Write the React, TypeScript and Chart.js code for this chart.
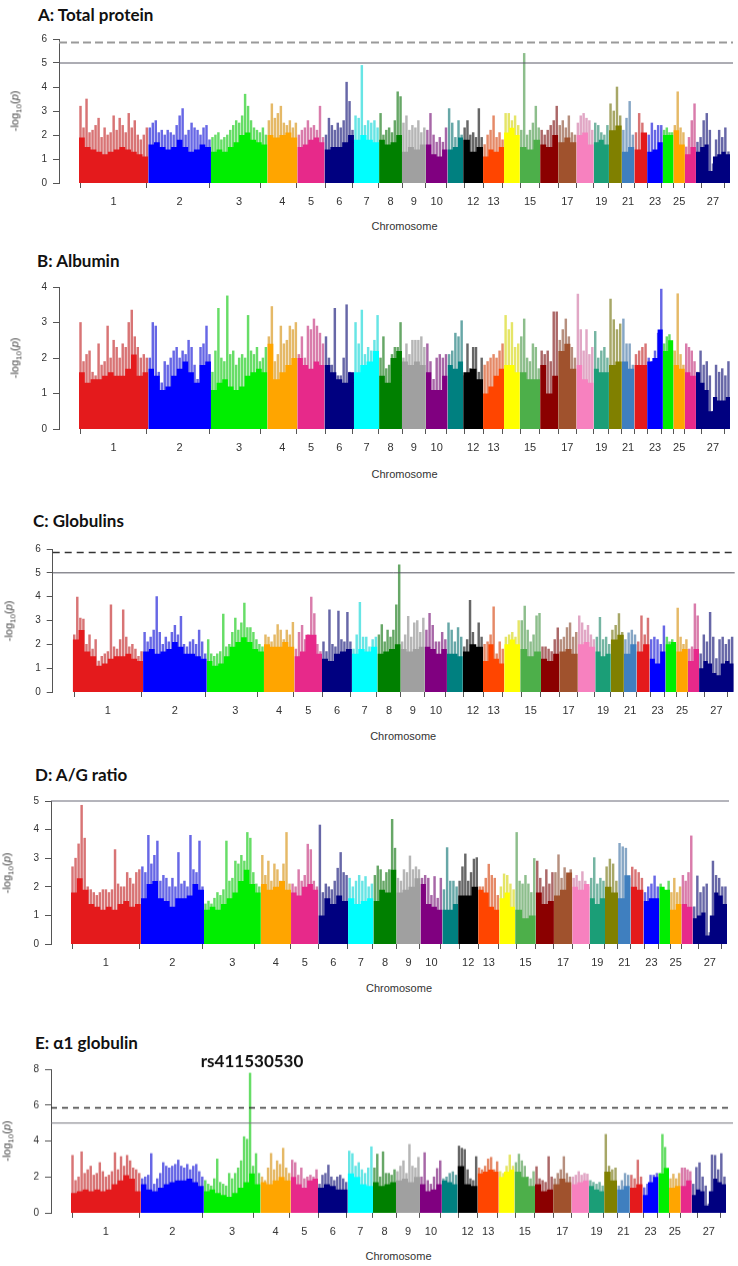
import React, { useEffect, useRef } from 'react';
import { Chart, registerables } from 'chart.js';

Chart.register(...registerables);
Chart.defaults.font.family = '"Liberation Sans", Arial, sans-serif';

// ---------------- data ----------------
const chromosomes = ['1','2','3','4','5','6','7','8','9','10','11','12','13','14','15','16','17','18','19','20','21','22','23','24','25','26','27'];
const chromLengthMb = [275.4, 248.9, 224.0, 119.2, 107.9, 117.0, 100.0, 90.7, 94.7, 86.4, 62.2, 79.1, 83.1, 62.7, 80.9, 71.7, 72.3, 68.6, 60.5, 51.2, 49.9, 50.8, 62.3, 42.0, 45.4, 44.0, 135.4];
const chromColors = ['#E41A1C','#0000FF','#00EE00','#FFA500','#E7298A','#000080','#00FFFF','#008000','#A0A0A0','#800080','#008080','#000000','#FF4500','#FFFF00','#4DAF4A','#8B0000','#A0522D','#F781BF','#1B9E77','#808000','#3F7FBF','#E41A1C','#0000FF','#00EE00','#FFA500','#E7298A','#000080'];
const tickLabels = ['1','2','3','4','5','6','7','8','9','10','','12','13','','15','','17','','19','','21','','23','','25','','27'];

const genomeWideThreshold = 5.85;
const suggestiveThreshold = 5.0;

// A: Total protein
const totalProteinBody = [
  [1.9,1.5,1.4,1.3,1.2,1.3,1.4,1.5,1.4,1.3,1.2,1.1],[1.6,1.7,1.5,1.4,1.5,1.8,1.5,1.3,1.4,1.6,1.5],[1.3,1.4,1.3,1.5,1.7,2.0,2.1,1.8,1.7,1.6],
  [2.0,1.9,2.0,2.1,1.9],[1.5,1.6,1.8,1.9,1.7],[1.4,1.5,1.5,1.7,2.0],[1.8,2.0,1.8,1.7],[1.8,1.6,1.7,2.0],[1.3,1.5,1.4,1.6],[1.6,1.2,1.1,1.4],
  [1.4,1.5,1.9],[1.8,1.3,1.5],[1.1,1.4,1.3,1.5],[2.1,2.3,2.0],[1.5,1.4,1.8],[1.6,1.5,2.0],[1.7,1.9,1.7],[2.0,2.1,1.6],[1.7,1.8,1.6],
  [2.2,2.4],[1.3,1.5],[1.4,2.1],[1.3,1.4,1.7],[2.0,2.0],[2.2,1.6],[1.2,1.5],[1.3,1.5,1.6,0.5,1.1,1.2,1.3,1.2]
];
const totalProteinPeaks = [
  [3.2,2.3,3.5,2.1,2.2,2.4,2.7,1.9,2.3,2.0,2.1,2.8,2.2,2.7,2.4,2.1,2.9,2.3,2.6,2.0,1.8,2.0,2.3],
  [2.3,2.5,2.6,2.1,2.2,2.0,2.2,2.1,2.0,2.4,2.8,3.1,2.0,2.2,2.5,2.3,2.2,2.0,2.3,2.4,1.8],
  [1.9,2.0,2.1,1.8,1.9,2.0,2.2,2.4,2.6,2.5,2.8,3.7,3.2,2.6,2.3,2.2,2.1,2.3,2.0],
  [2.6,3.3,2.7,2.9,3.2,2.5,2.4,2.6,2.3,2.5],[2.0,2.2,2.3,2.6,2.3,2.4,2.2,3.2,1.9],[2.0,2.7,2.4,2.2,2.5,2.3,2.6,4.2,3.4,2.2],
  [2.8,2.7,4.9,2.4,2.6,2.5,2.6,2.3],[2.9,2.0,2.2,2.3,2.1,2.6,3.8,3.6],[2.5,2.8,2.2,2.4,2.3,2.6,2.1,2.3],[2.2,2.9,2.0,1.7,1.9,1.7,2.3],
  [3.1,2.5,1.9,2.6,2.0],[2.3,2.6,2.0,2.1,1.9,3.1,1.9],[1.6,2.0,2.2,2.8,1.9,2.1,1.8],[2.9,2.9,2.6,2.8,2.4],[2.2,5.4,2.0,2.2,2.5,3.2,2.3],
  [2.2,2.0,2.2,2.4,2.6,3.2],[2.4,2.6,2.3,2.8,2.1,2.0],[2.5,2.8,2.9,2.7,2.6,2.2],[2.5,2.4,2.1,2.0,2.4],[3.3,3.0,4.0,2.8],[2.2,2.7,3.4,2.0],
  [2.1,2.9,2.5,1.8],[2.0,2.5,2.2,2.4,2.4],[2.2,2.3,2.1,2.1],[2.4,3.8,2.3,2.1],[1.5,1.9,2.6,3.3],[1.7,1.9,2.6,2.9,2.2,0.8,1.8,2.2,1.9,2.3,1.3]
];

// B: Albumin
const albuminBody = [
  [1.6,1.3,1.4,1.4,1.5,1.6,1.5,1.5,1.7,2.1,1.5,1.6],[1.7,1.5,1.1,1.2,1.5,1.7,1.9,1.6,1.3,1.8,1.9],[1.1,1.3,1.4,1.2,1.1,1.2,1.5,1.6,1.7,1.6],
  [2.4,1.4,1.6,1.8,2.0],[2.0,1.8,1.7,1.9,1.8],[1.8,1.6,1.4,1.3,1.6],[1.6,1.8,1.9,2.2],[1.5,1.3,2.0,2.2],[1.9,1.8,1.9,1.8],[1.6,1.1,1.1,1.5],
  [1.8,1.7,1.9],[1.6,1.7,1.4],[1.0,1.2,1.5,1.7],[1.8,1.8,1.6],[1.6,1.4,1.4],[1.8,1.0,1.5],[2.2,2.4,1.7],[1.8,1.4,1.3],[1.7,1.6,1.6],
  [1.8,1.9],[1.9,1.7],[1.8,1.8],[1.9,2.0,2.8],[2.2,2.5],[1.8,1.7],[1.6,1.5],[1.6,1.3,1.1,0.5,0.9,0.8,0.8,0.9]
];
const albuminPeaks = [
  [3.0,1.9,2.1,2.2,1.6,1.5,2.4,1.8,1.9,2.9,2.0,2.5,2.3,2.0,2.4,2.3,3.0,3.35,2.6,2.3,2.0,2.1,2.0],
  [2.0,3.0,2.9,1.6,1.3,1.9,1.8,2.0,2.2,2.3,2.0,2.2,2.1,2.5,2.3,1.8,1.4,2.3,2.4,2.9,2.1],
  [1.6,2.2,3.4,2.0,1.9,3.75,2.1,2.2,1.8,2.0,2.1,2.0,3.2,2.2,2.1,2.3,1.9,2.0,2.3],
  [2.6,3.45,1.9,2.1,2.9,2.4,2.5,2.9,2.8,3.0],[2.1,2.6,2.0,2.9,2.8,3.1,2.9,2.7,2.4],[2.6,2.0,1.8,3.4,1.5,1.5,2.0,3.5,1.6,1.5],
  [3.0,2.4,3.35,2.1,2.3,2.2,2.5,3.2],[2.0,2.6,1.7,1.8,2.1,2.3,2.3,3.0],[2.0,2.4,2.1,2.5,2.5,2.5,2.6,2.3],[2.4,1.9,1.4,2.0,2.1,2.0,2.1],
  [2.1,2.2,2.7,2.6,3.05],[1.5,2.4,1.7,2.3,2.3,1.6,2.0],[1.8,1.9,2.0,2.1,2.0,2.2,2.4],[3.2,2.8,3.0,2.3,2.4],[2.6,3.1,2.0,1.9,2.4,2.3,1.7],
  [2.2,2.1,2.2,1.9,3.3,3.3],[2.5,2.8,3.1,2.6,2.3,2.0],[3.8,2.8,2.2,2.8,2.1,2.3],[2.75,2.0,2.2,2.3,2.0],[3.66,3.08,2.8,2.96],[3.1,2.4,2.4,1.8],
  [2.1,2.2,2.3,2.4],[2.0,1.9,2.2,2.7,3.94],[2.4,2.6,2.66,2.2],[2.2,3.81,2.1,1.8],[2.4,2.3,2.2,1.9],[1.6,2.2,1.8,1.9,1.5,0.5,1.8,1.6,1.7,1.5,1.9]
];

// C: Globulins
const globulinsBody = [
  [2.2,2.6,1.7,1.5,1.1,1.2,1.4,1.5,1.5,1.6,1.4,1.3],[1.7,1.8,1.6,1.7,1.8,2.1,1.9,1.6,1.6,1.5,1.4],[1.3,1.1,1.2,1.5,1.9,2.1,2.3,2.1,1.8,1.7],
  [2.0,1.9,1.9,2.1,1.9],[1.5,1.7,2.4,2.4,1.6],[1.4,1.3,1.6,1.7,1.8],[1.6,1.8,1.7,1.9],[1.6,1.7,1.8,2.0],[1.8,1.7,1.8,1.9],[1.9,1.8,1.6,1.8],
  [1.6,1.6,1.5],[1.7,2.0,1.9],[1.3,2.0,1.4,1.2],[2.0,2.2,2.0],[1.8,1.5,1.7],[1.4,1.3,1.6],[1.7,1.8,1.6],[2.0,2.1,1.9],[1.7,1.5,1.6],
  [2.2,2.4],[1.6,2.0],[1.7,2.0],[1.4,1.2,1.7],[2.0,2.1],[1.7,1.8],[1.3,1.8],[1.0,1.3,1.2,0.8,0.7,1.2,1.3,1.2]
];
const globulinsPeaks = [
  [2.4,3.98,3.1,3.06,2.0,2.4,1.8,2.2,1.3,1.5,1.6,1.7,3.66,1.9,1.8,2.2,3.45,2.3,1.9,2.0,1.8,1.5,1.7],
  [2.5,2.1,2.3,2.6,4.0,2.5,2.0,2.3,2.1,2.5,2.8,2.4,3.17,2.0,1.9,2.1,2.2,2.0,2.6,2.1,1.6],
  [2.2,1.6,1.5,1.6,1.7,3.27,1.9,2.0,2.5,3.1,2.6,2.9,3.73,2.7,2.7,2.5,2.2,2.0,1.9],
  [2.4,2.3,2.1,2.4,2.83,2.6,2.2,2.6,2.4,2.92],[1.8,2.5,2.8,2.2,2.4,3.98,3.29,2.0,1.7],[2.1,1.7,3.45,2.0,1.9,3.4,2.2,2.1,3.34,2.1],
  [1.8,2.4,3.76,2.3,2.3,1.9,2.2,2.3],[2.4,2.83,2.1,2.6,2.3,2.6,3.66,5.34],[2.1,2.4,3.17,2.3,2.9,3.0,2.5,3.1],[2.6,3.3,2.8,2.1,2.1,2.5,2.2],
  [2.9,2.6,2.1,2.7,2.3],[1.9,2.2,3.85,2.5,1.8,2.9,2.3],[2.0,2.1,2.4,3.57,1.6,2.1,1.8],[2.3,2.4,2.5,2.3,3.0],[3.0,3.6,2.6,2.1,2.4,3.2,3.3],
  [1.9,1.9,1.8,1.7,2.2,2.69],[2.2,2.3,2.7,2.9,2.3,2.5],[3.2,2.9,2.6,2.8,2.4,2.2],[2.3,3.13,2.2,2.3,2.0],[2.6,2.8,3.29,2.5],[2.2,2.48,2.6,2.4],
  [2.1,3.2,2.4,3.1],[2.2,2.3,2.2,2.0,2.78],[2.3,2.1,2.2,2.0],[3.52,2.3,2.0,2.2],[1.8,1.9,3.7,3.2],[1.6,2.4,2.1,3.34,2.3,1.4,2.2,2.3,2.0,2.2,2.3]
];

// D: A/G ratio
const agRatioBody = [
  [1.8,2.3,1.9,1.4,1.3,1.2,1.3,1.2,1.4,1.5,1.3,1.4],[1.6,2.1,2.2,1.6,1.5,1.3,1.6,1.6,1.7,2.1,1.9],[1.2,1.3,1.2,1.4,1.6,1.8,2.2,2.6,2.1,1.8],
  [2.1,1.9,2.0,2.2,1.9],[1.8,1.7,2.0,2.1,1.9],[1.0,1.6,1.4,1.7,1.5],[1.6,1.4,1.5,1.6],[1.5,1.9,1.8,2.6],[1.8,1.9,2.0,2.3],[2.1,1.4,1.3,1.2],
  [1.2,1.2,1.4],[1.7,1.7,2.0],[1.9,1.8,1.3,1.2],[1.6,1.8,1.3],[1.2,0.9,1.0],[1.8,1.4,1.5],[1.7,1.9,2.5],[2.0,1.9,2.1],[1.6,1.4,1.6],
  [2.0,1.8],[1.6,2.4],[2.0,1.9],[1.5,1.6,1.6],[2.0,1.9],[1.2,1.4],[1.4,1.3],[0.9,1.0,1.1,0.3,1.0,1.8,1.7,1.4]
];
const agRatioPeaks = [
  [2.7,3.0,3.5,4.85,3.7,2.0,1.9,1.8,1.7,1.8,1.9,1.9,1.8,1.9,3.3,2.1,2.0,2.0,2.5,2.3,2.1,2.5,2.6],
  [2.7,2.5,3.8,2.8,3.1,3.6,2.2,2.4,2.3,2.0,2.3,2.0,3.2,2.1,2.2,2.0,3.8,2.6,2.5,3.6,2.0],
  [1.4,1.5,1.4,1.6,1.8,1.7,1.9,3.6,2.2,2.3,2.9,2.8,3.1,2.9,3.9,3.7,2.5,2.1,2.0],
  [3.1,2.4,2.9,2.2,2.8,2.6,2.2,2.8,3.9,2.1],[2.1,2.0,2.6,2.2,2.4,3.49,3.3,2.2,2.0],[4.16,1.8,2.1,2.0,1.9,2.2,2.65,3.2,2.5,2.4],
  [2.3,2.0,2.2,2.4,2.2,2.36,2.0,2.1],[2.4,2.73,2.6,2.2,2.5,2.6,4.36,3.35],[2.3,2.2,2.6,2.5,3.08,2.6,2.7,2.6],[2.3,2.4,2.3,1.7,2.36,1.6,2.3],
  [1.9,3.37,2.2,2.2,2.0],[2.2,2.7,3.15,2.2,2.5,2.97,3.02],[2.0,2.0,2.3,2.79,2.4,2.3,1.7],[2.0,2.45,2.4,2.1,1.9],[3.9,2.2,2.1,2.4,2.1,1.8,2.99],
  [2.9,2.3,2.0,2.6,2.1,2.5],[2.5,3.12,2.3,2.67,2.4,2.6],[2.3,2.4,2.2,2.53,2.2,2.0],[2.3,3.02,2.1,2.3,2.2],[2.7,2.97,2.8,2.2],[3.52,3.4,3.35,2.3],
  [2.69,2.6,2.5,2.3],[1.8,2.0,2.1,2.38,2.0],[2.1,1.9,1.8,2.2],[1.8,2.3,1.8,2.0],[2.4,2.2,2.5,3.78],[1.3,2.38,1.8,2.0,2.1,0.4,2.9,2.4,2.3,2.0,2.0]
];

// E: alpha1 globulin
const alpha1Body = [
  [1.1,1.2,1.3,1.2,1.3,1.2,1.3,1.6,1.8,2.1,1.9,1.2],[1.6,1.3,1.2,1.4,1.6,1.7,1.8,1.8,1.9,1.7,1.5],[1.2,1.3,1.1,1.0,0.9,1.1,1.4,1.7,2.2,1.6],
  [1.7,1.6,1.8,2.0,1.8],[2.0,1.6,1.4,1.8,1.9],[1.4,1.6,1.5,1.3,1.3],[2.2,2.0,1.6,1.5],[1.7,1.5,1.6,1.7],[1.8,1.9,1.7,2.0],[1.6,1.2,1.3,1.6],
  [1.8,1.7,1.6],[2.6,1.6,1.5],[2.2,2.3,2.4,2.3],[2.0,2.3,2.4],[2.3,2.0,1.5],[1.6,1.2,1.3],[1.6,1.9,1.7],[1.6,1.7,1.8],[1.5,1.3,1.2],
  [2.3,1.8],[1.3,1.5],[1.4,1.6],[1.0,1.7,2.0],[2.2,2.5],[1.4,1.5],[1.5,1.8],[1.0,1.3,1.2,0.4,1.2,1.9,1.7,1.6]
];
const alpha1Peaks = [
  [3.2,1.8,2.0,3.4,2.2,2.4,2.6,2.1,2.2,2.8,2.3,2.0,2.1,2.3,3.35,2.4,3.13,2.6,3.2,2.9,2.5,2.4,2.2],
  [1.9,2.0,2.1,3.3,1.6,1.9,2.2,2.8,2.6,2.5,2.6,2.7,2.94,2.6,2.5,2.7,2.4,2.6,2.7,2.3,2.0],
  [1.8,1.6,1.5,1.9,3.0,1.7,1.6,1.5,2.2,1.9,2.2,2.5,2.9,4.24,4.1,7.78,2.6,3.3,2.2],
  [2.0,1.8,2.5,3.31,2.4,2.9,2.7,3.6,2.5,2.2],[2.94,2.8,2.1,2.5,1.9,2.0,2.1,2.0,2.4],[1.6,2.1,2.2,2.66,2.0,1.8,2.0,2.1,1.9,1.7],
  [3.44,3.3,2.6,2.8,2.4,2.2,2.5,3.68],[2.5,3.27,2.0,3.4,2.2,2.2,2.1,2.4],[2.3,2.6,2.9,2.2,3.81,2.6,2.5,3.09],[2.0,3.35,1.8,1.6,2.0,2.47,2.9],
  [1.9,2.0,2.2,2.29,2.1],[3.72,3.6,3.53,2.4,1.9,1.8,3.13],[2.5,2.4,2.6,3.0,3.09,2.4,2.85],[2.3,2.2,2.6,3.22,2.6],[2.8,3.27,2.9,2.6,2.0,1.9,2.3],
  [2.57,1.9,1.8,1.7,3.13,2.0],[1.9,2.2,2.4,3.13,2.2,2.0],[2.0,2.1,2.3,2.1,2.2,2.16],[1.8,1.7,1.6,1.7,1.5],[4.37,2.6,2.4,2.5],[1.5,1.8,2.2,2.1],
  [2.1,1.9,2.94,2.0],[1.4,1.6,2.1,2.1,2.2],[2.2,4.37,3.65,2.4],[1.9,2.16,1.9,2.2],[2.5,2.5,2.4,2.3],[1.6,2.53,2.79,2.0,1.5,0.5,3.22,3.2,2.4,3.3,2.0]
];

// ---------------- panels (layout + styling) ----------------
const PANELS = [
  { title: 'A: Total protein', body: totalProteinBody, peaks: totalProteinPeaks, yMax: 6, yStep: 1, annotation: null,
    lines: [ { v: genomeWideThreshold, color: '#9a9a9a', width: 2, dash: [8, 4] }, { v: suggestiveThreshold, color: '#5a5a68', width: 1, dash: [] } ],
    L: { titleX: 38, titleY: 15, axisX: 59, dataStart: 79, dataEnd: 730, right: 733, yTop: 39, y0: 183, xlabY: 226 } },
  { title: 'B: Albumin', body: albuminBody, peaks: albuminPeaks, yMax: 4, yStep: 1, annotation: null, lines: [],
    L: { titleX: 37, titleY: 260.5, axisX: 59, dataStart: 79, dataEnd: 730, right: 733, yTop: 287.3, y0: 429.3, xlabY: 474 } },
  { title: 'C: Globulins', body: globulinsBody, peaks: globulinsPeaks, yMax: 6, yStep: 1, annotation: null,
    lines: [ { v: genomeWideThreshold, color: '#333333', width: 1.5, dash: [7, 5] }, { v: suggestiveThreshold, color: '#555560', width: 1, dash: [] } ],
    L: { titleX: 33, titleY: 520.5, axisX: 52.7, dataStart: 72.7, dataEnd: 733.7, right: 734.7, yTop: 549.3, y0: 692.3, xlabY: 736 } },
  { title: 'D: A/G ratio', body: agRatioBody, peaks: agRatioPeaks, yMax: 5, yStep: 1, annotation: null,
    lines: [ { v: suggestiveThreshold, color: '#6a6a78', width: 1, dash: [] } ],
    L: { titleX: 35, titleY: 774.5, axisX: 51, dataStart: 71, dataEnd: 727, right: 729, yTop: 801, y0: 944.3, xlabY: 988 } },
  { title: 'E: α1 globulin', body: alpha1Body, peaks: alpha1Peaks, yMax: 8, yStep: 2, annotation: 'rs411530530',
    lines: [ { v: genomeWideThreshold, color: '#333333', width: 1.5, dash: [6, 5] }, { v: suggestiveThreshold, color: '#77777f', width: 1, dash: [] } ],
    L: { titleX: 35, titleY: 1043, axisX: 51, dataStart: 71, dataEnd: 726, right: 733, yTop: 1069.3, y0: 1212.7, xlabY: 1256.7 } },
];

function spikeColor(hex) {
  const n = parseInt(hex.slice(1), 16);
  const rgb = [(n >> 16) & 255, (n >> 8) & 255, n & 255];
  const m = (c) => Math.round(c * 0.7 + 130 * 0.3);
  return `rgba(${m(rgb[0])},${m(rgb[1])},${m(rgb[2])},0.7)`;
}

const annotationPlugin = {
  id: 'peakAnnotation',
  afterDatasetsDraw(chart, args, opts) {
    if (!opts || !opts.text) return;
    const idx = chart.data.datasets.findIndex((d) => d.type === 'bar');
    if (idx < 0) return;
    const ds = chart.data.datasets[idx];
    let best = 0;
    ds.data.forEach((p, i) => { if (p.y > ds.data[best].y) best = i; });
    const el = chart.getDatasetMeta(idx).data[best];
    const ctx = chart.ctx;
    ctx.save();
    ctx.font = 'bold 17px Lato, "Open Sans", sans-serif';
    ctx.fillStyle = '#111';
    ctx.textAlign = 'center';
    ctx.textBaseline = 'middle';
    ctx.fillText(opts.text, el.x + 2, el.y - 11.5);
    ctx.restore();
  },
};

const TOP_PAD = 26;

function ManhattanPanel({ panel }) {
  const ref = useRef(null);
  const L = panel.L;
  const top = L.yTop - TOP_PAD;
  const height = L.y0 + 34 - top;

  useEffect(() => {
    const total = chromLengthMb.reduce((a, b) => a + b, 0);
    const pxPerMb = (L.dataEnd - L.dataStart) / total;
    const xMin = -(L.dataStart - L.axisX) / pxPerMb;
    const xMax = total + (L.right - L.dataEnd) / pxPerMb;

    const datasets = [];
    const spikeData = [];
    const spikeColors = [];
    const centers = [];
    let start = 0;
    chromLengthMb.forEach((len, c) => {
      const b = panel.body[c];
      const w = len / b.length;
      const pts = b.map((v, k) => ({ x: start + k * w, y: v }));
      pts.push({ x: start + len, y: b[b.length - 1] });
      datasets.push({
        type: 'line', label: 'chr' + chromosomes[c], data: pts, stepped: true, fill: 'origin',
        backgroundColor: chromColors[c], borderColor: 'rgba(0,0,0,0)', borderWidth: 0,
        pointRadius: 0, order: 1,
      });
      const p = panel.peaks[c];
      const sw = len / p.length;
      p.forEach((v, k) => {
        spikeData.push({ x: start + (k + 0.5) * sw, y: v });
        spikeColors.push(spikeColor(chromColors[c]));
      });
      centers.push(start + len / 2);
      start += len;
    });
    datasets.push({
      type: 'bar', label: 'peaks', data: spikeData, backgroundColor: spikeColors,
      barThickness: 1.8, borderWidth: 0, order: 2, grouped: false,
    });
    panel.lines.forEach((ln) => {
      datasets.push({
        type: 'line', label: 'threshold', data: [{ x: xMin, y: ln.v }, { x: xMax, y: ln.v }],
        borderColor: ln.color, borderWidth: ln.width, borderDash: ln.dash, pointRadius: 0,
        fill: false, order: 0, clip: false,
      });
    });

    const chart = new Chart(ref.current, {
      type: 'line',
      data: { datasets },
      options: {
        responsive: false,
        animation: false,
        events: [],
        layout: { padding: { top: TOP_PAD, left: 0, right: 738 - L.right, bottom: 0 } },
        plugins: {
          legend: { display: false },
          tooltip: { enabled: false },
          peakAnnotation: { text: panel.annotation },
        },
        scales: {
          x: {
            type: 'linear', min: xMin, max: xMax, offset: false,
            afterFit: (s) => { s.height = 34; },
            afterBuildTicks: (s) => { s.ticks = centers.map((v) => ({ value: v })); },
            ticks: {
              autoSkip: false, maxRotation: 0, minRotation: 0, padding: 7, color: '#333',
              font: { size: 11 },
              callback: (v, i) => tickLabels[i],
            },
            grid: { display: true, drawOnChartArea: false, drawTicks: true, tickLength: 5, color: '#555' },
            border: { display: false },
          },
          y: {
            type: 'linear', min: 0, max: panel.yMax,
            afterFit: (s) => { s.width = L.axisX; },
            ticks: { stepSize: panel.yStep, padding: 6, color: '#333', font: { size: 10 } },
            grid: { display: true, drawOnChartArea: false, drawTicks: true, tickLength: 6, color: '#555' },
            border: { display: true, color: '#555', width: 1 },
          },
        },
      },
      plugins: [annotationPlugin],
    });
    return () => chart.destroy();
  }, []);

  const yMid = (L.yTop + L.y0) / 2;
  const dataMid = (L.dataStart + L.dataEnd) / 2;
  return (
    <>
      <div style={{ position: 'absolute', left: L.titleX, top: L.titleY - 9, fontFamily: 'Lato, "Open Sans", sans-serif', fontWeight: 700, fontSize: 17, lineHeight: '17px', color: '#111', whiteSpace: 'nowrap' }}>
        {panel.title}
      </div>
      <canvas ref={ref} width={738} height={height} style={{ position: 'absolute', left: 0, top, width: 738, height }} />
      <div style={{ position: 'absolute', left: L.axisX - 42, top: yMid, transform: 'translate(-50%, -50%) rotate(-90deg)', fontFamily: '"Liberation Sans", Arial, sans-serif', fontWeight: 400, fontSize: 11, color: '#444', whiteSpace: 'nowrap', lineHeight: '12px' }}>
        -log<sub style={{ fontSize: 8 }}>10</sub>(<i>p</i>)
      </div>
      <div style={{ position: 'absolute', left: dataMid, top: L.xlabY - 5.4, transform: 'translateX(-50%)', fontFamily: '"Liberation Sans", Arial, sans-serif', fontWeight: 400, fontSize: 11, lineHeight: '11px', color: '#333', whiteSpace: 'nowrap' }}>
        Chromosome
      </div>
    </>
  );
}

export default function App() {
  return (
    <div style={{ position: 'absolute', left: 0, top: 0, width: 738, height: 1266, background: '#fff', overflow: 'hidden' }}>
      {PANELS.map((p, i) => <ManhattanPanel key={i} panel={p} />)}
    </div>
  );
}
